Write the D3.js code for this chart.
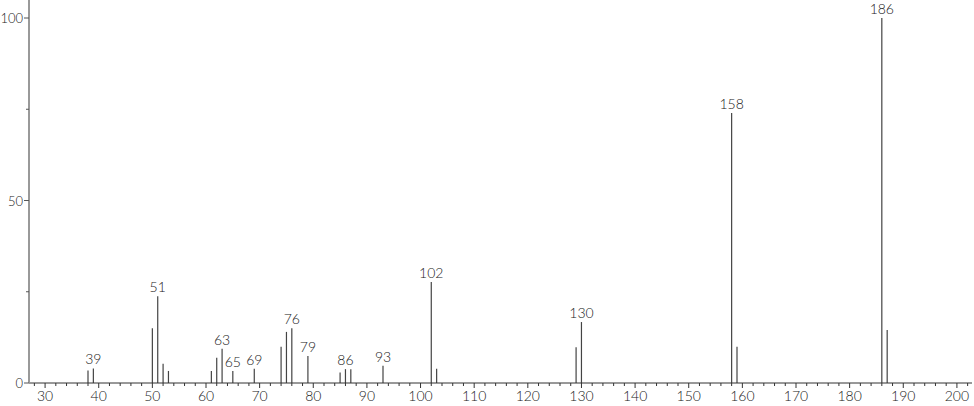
<!DOCTYPE html>
<html>
<head>
<meta charset="utf-8">
<script src="https://cdn.jsdelivr.net/npm/d3@7"></script>
<style>
  body { margin: 0; background: #fff; }
  svg text { font-family: "Lato", "DejaVu Sans", sans-serif; font-weight: 300; fill: #222; }
</style>
</head>
<body>
<svg id="chart" width="974" height="406"></svg>
<script>
// m/z and relative intensity
const mz = [38, 39, 50, 51, 52, 53, 61, 62, 63, 65, 69, 74, 75, 76, 79, 85, 86, 87, 93, 102, 103, 129, 130, 158, 159, 186, 187];
const intensity = [3.4, 4.0, 15.0, 23.8, 5.3, 3.3, 3.3, 6.9, 9.4, 3.3, 3.9, 9.9, 14.0, 15.0, 7.4, 2.9, 3.8, 3.8, 4.7, 27.7, 3.9, 9.8, 16.7, 74.0, 9.9, 100, 14.5];
const labelled = [39, 51, 63, 65, 69, 76, 79, 86, 93, 102, 130, 158, 186];
const xTicks = [30, 40, 50, 60, 70, 80, 90, 100, 110, 120, 130, 140, 150, 160, 170, 180, 190, 200];
const yTicks = [0, 50, 100];

const svg = d3.select("#chart");

const x = d3.scaleLinear().domain([27, 203]).range([29, 973]);
const y = d3.scaleLinear().domain([0, 100]).range([383, 18]);

const peaks = mz.map((m, i) => ({ mz: m, v: intensity[i] }));

// bars (sticks)
svg.selectAll(".peak")
    .data(peaks)
    .enter().append("line")
    .attr("class", "peak")
    .attr("x1", d => x(d.mz))
    .attr("x2", d => x(d.mz))
    .attr("y1", y(0))
    .attr("y2", d => y(d.v))
    .attr("stroke", "#444")
    .attr("stroke-width", 1.2);

// peak labels
svg.selectAll(".peakLabel")
    .data(peaks.filter(d => labelled.includes(d.mz)))
    .enter().append("text")
    .attr("class", "peakLabel")
    .attr("x", d => x(d.mz))
    .attr("y", d => y(d.v) - 4)
    .attr("text-anchor", "middle")
    .style("font-size", "14px")
    .text(d => d.mz);

// x axis
const xAxis = svg.append("g").attr("transform", `translate(0,${y(0)})`);
xAxis.append("line")
    .attr("x1", 29).attr("x2", 972)
    .attr("stroke", "#333").attr("stroke-width", 1);
xAxis.selectAll(".minor")
    .data(d3.range(28, 204, 2))
    .enter().append("line")
    .attr("x1", d => x(d)).attr("x2", d => x(d))
    .attr("y1", 0).attr("y2", d => d % 10 === 0 ? 5 : 3)
    .attr("stroke", "#333").attr("stroke-width", 1);
xAxis.selectAll(".xlab")
    .data(xTicks)
    .enter().append("text")
    .attr("x", d => x(d))
    .attr("y", 18)
    .attr("text-anchor", "middle")
    .style("font-size", "14px")
    .text(d => d);

// y axis
const yAxis = svg.append("g");
yAxis.append("line")
    .attr("x1", 29).attr("x2", 29)
    .attr("y1", 0).attr("y2", y(0))
    .attr("stroke", "#999").attr("stroke-width", 2);
yAxis.selectAll(".ytick")
    .data([0, 25, 50, 75, 100])
    .enter().append("line")
    .attr("x1", d => d % 50 === 0 ? 24 : 26).attr("x2", 29)
    .attr("y1", d => y(d)).attr("y2", d => y(d))
    .attr("stroke", "#555").attr("stroke-width", 1);
yAxis.selectAll(".ylab")
    .data(yTicks)
    .enter().append("text")
    .attr("x", 23)
    .attr("y", d => y(d) + 5)
    .attr("text-anchor", "end")
    .style("font-size", "13px")
    .text(d => d);
</script>
</body>
</html>
